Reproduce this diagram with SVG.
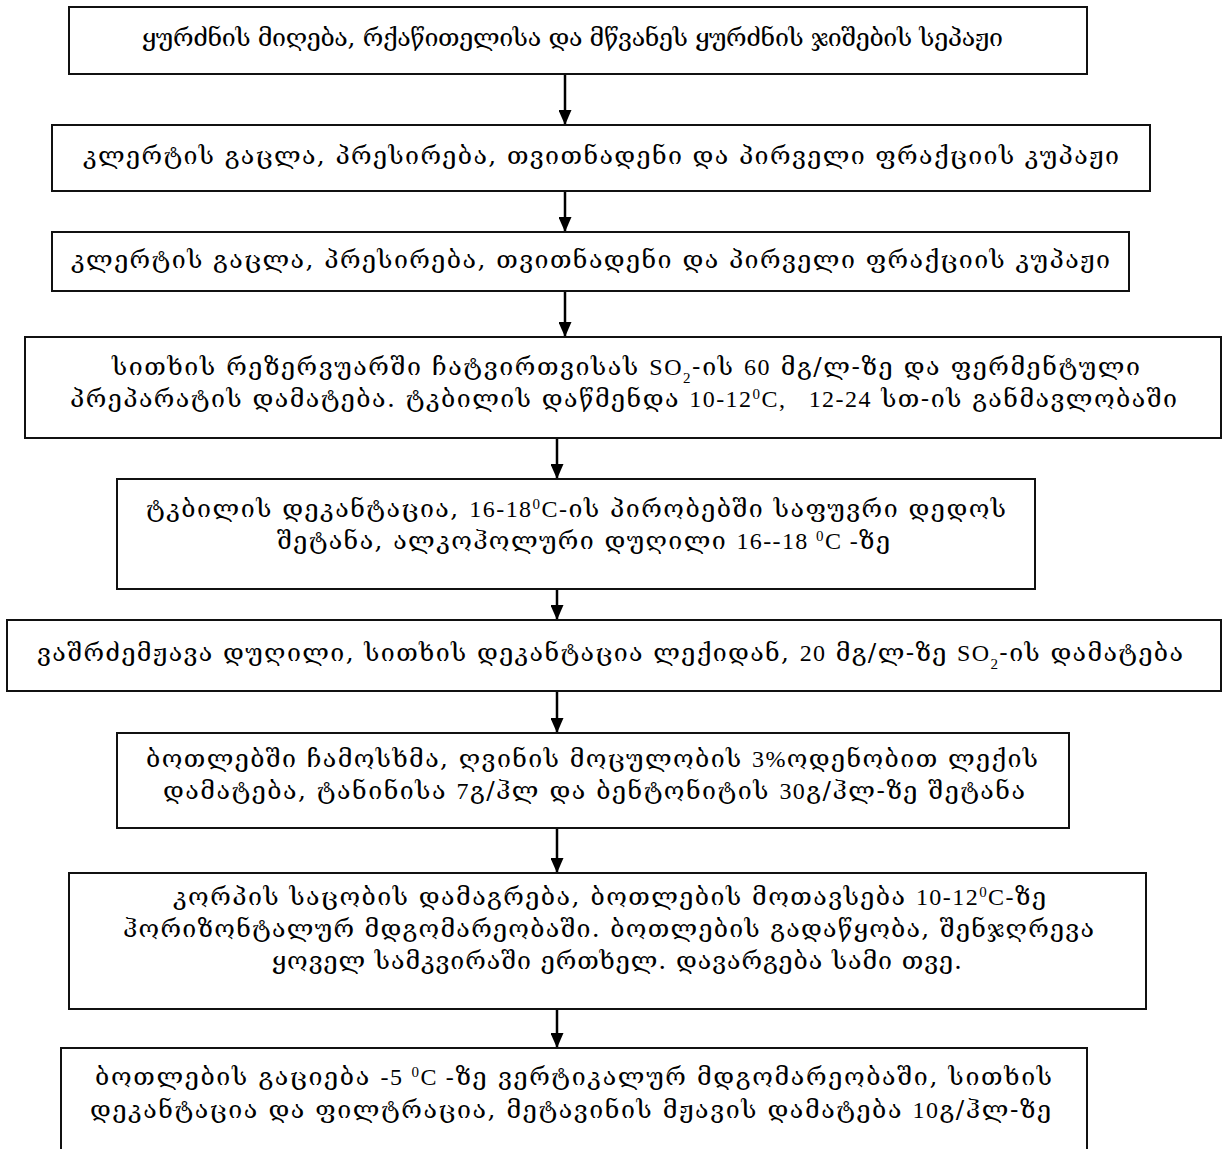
<svg xmlns="http://www.w3.org/2000/svg" width="1227" height="1149" viewBox="0 0 1227 1149">
<style>
.box{fill:#fff;stroke:#111;stroke-width:2}
.t{font-family:"DejaVu Serif","DejaVu Sans",serif;font-size:25px;fill:#000}
.l{font-family:"Liberation Serif","Times New Roman",serif;font-size:24px}
.s{font-family:"Liberation Serif","Times New Roman",serif;font-size:15px}
.conn{stroke:#000;stroke-width:2.5;fill:none;marker-end:url(#ah)}
</style>
<defs>
<marker id="ah" viewBox="0 0 15 13" refX="15" refY="6.5" markerWidth="15" markerHeight="13" markerUnits="userSpaceOnUse" orient="auto">
<path d="M0,0 L15,6.5 L0,13 z" fill="#000"/>
</marker>
</defs>
<rect width="1227" height="1149" fill="#fff"/>
<g id="connectors">
<line class="conn" x1="565" y1="74" x2="565" y2="125"/>
<line class="conn" x1="565" y1="191" x2="565" y2="232"/>
<line class="conn" x1="565" y1="291" x2="565" y2="337"/>
<line class="conn" x1="557" y1="438" x2="557" y2="479"/>
<line class="conn" x1="557" y1="589" x2="557" y2="620"/>
<line class="conn" x1="557" y1="691" x2="557" y2="733"/>
<line class="conn" x1="557" y1="828" x2="557" y2="873"/>
<line class="conn" x1="557" y1="1009" x2="557" y2="1048"/>
</g>
<g id="n1">
<rect class="box" x="69" y="7" width="1018" height="67"/>
<text class="t" x="142" y="46" textLength="861">ყურძნის მიღება, რქაწითელისა და მწვანეს ყურძნის ჯიშების სეპაჟი</text>
</g>
<g id="n2">
<rect class="box" x="52" y="125" width="1098" height="66"/>
<text class="t" x="83" y="164" textLength="1036">კლერტის გაცლა, პრესირება, თვითნადენი და პირველი ფრაქციის კუპაჟი</text>
</g>
<g id="n3">
<rect class="box" x="52" y="232" width="1077" height="59"/>
<text class="t" x="71" y="268" textLength="1039">კლერტის გაცლა, პრესირება, თვითნადენი და პირველი ფრაქციის კუპაჟი</text>
</g>
<g id="n4">
<rect class="box" x="25" y="337" width="1196" height="101"/>
<text class="t" x="112" y="375" textLength="1028">სითხის რეზერვუარში ჩატვირთვისას <tspan class="l">SO</tspan><tspan class="s" baseline-shift="sub">2</tspan>-ის <tspan class="l">60</tspan> მგ/ლ-ზე და ფერმენტული</text>
<text class="t" x="70" y="407" textLength="1107" xml:space="preserve">პრეპარატის დამატება. ტკბილის დაწმენდა <tspan class="l">10-12</tspan><tspan class="s" baseline-shift="super">0</tspan><tspan class="l">C,   12-24</tspan> სთ-ის განმავლობაში</text>
</g>
<g id="n5">
<rect class="box" x="117" y="479" width="918" height="110"/>
<text class="t" x="146" y="517" textLength="860">ტკბილის დეკანტაცია, <tspan class="l">16-18</tspan><tspan class="s" baseline-shift="super">0</tspan><tspan class="l">C-</tspan>ის პირობებში საფუვრი დედოს</text>
<text class="t" x="277" y="549" textLength="613">შეტანა, ალკოჰოლური დუღილი <tspan class="l">16--18 </tspan><tspan class="s" baseline-shift="super">0</tspan><tspan class="l">C -</tspan>ზე</text>
</g>
<g id="n6">
<rect class="box" x="7" y="620" width="1214" height="71"/>
<text class="t" x="37" y="661" textLength="1146">ვაშრძემჟავა დუღილი, სითხის დეკანტაცია ლექიდან, <tspan class="l">20</tspan> მგ/ლ-ზე <tspan class="l">SO</tspan><tspan class="s" baseline-shift="sub">2</tspan>-ის დამატება</text>
</g>
<g id="n7">
<rect class="box" x="117" y="733" width="952" height="95"/>
<text class="t" x="146" y="767" textLength="892">ბოთლებში ჩამოსხმა, ღვინის მოცულობის <tspan class="l">3%</tspan>ოდენობით ლექის</text>
<text class="t" x="163" y="799" textLength="862">დამატება, ტანინისა <tspan class="l">7</tspan>გ/ჰლ და ბენტონიტის <tspan class="l">30</tspan>გ/ჰლ-ზე შეტანა</text>
</g>
<g id="n8">
<rect class="box" x="69" y="873" width="1077" height="136"/>
<text class="t" x="173" y="905" textLength="873">კორპის საცობის დამაგრება, ბოთლების მოთავსება <tspan class="l">10-12</tspan><tspan class="s" baseline-shift="super">0</tspan><tspan class="l">C-</tspan>ზე</text>
<text class="t" x="123" y="937" textLength="971">ჰორიზონტალურ მდგომარეობაში. ბოთლების გადაწყობა, შენჯღრევა</text>
<text class="t" x="272" y="969" textLength="690">ყოველ სამკვირაში ერთხელ. დავარგება სამი თვე.</text>
</g>
<g id="n9">
<rect class="box" x="61" y="1048" width="1026" height="115"/>
<text class="t" x="95" y="1085" textLength="957">ბოთლების გაციება <tspan class="l">-5 </tspan><tspan class="s" baseline-shift="super">0</tspan><tspan class="l">C -</tspan>ზე ვერტიკალურ მდგომარეობაში, სითხის</text>
<text class="t" x="90" y="1118" textLength="961">დეკანტაცია და ფილტრაცია, მეტავინის მჟავის დამატება <tspan class="l">10</tspan>გ/ჰლ-ზე</text>
</g>
</svg>
